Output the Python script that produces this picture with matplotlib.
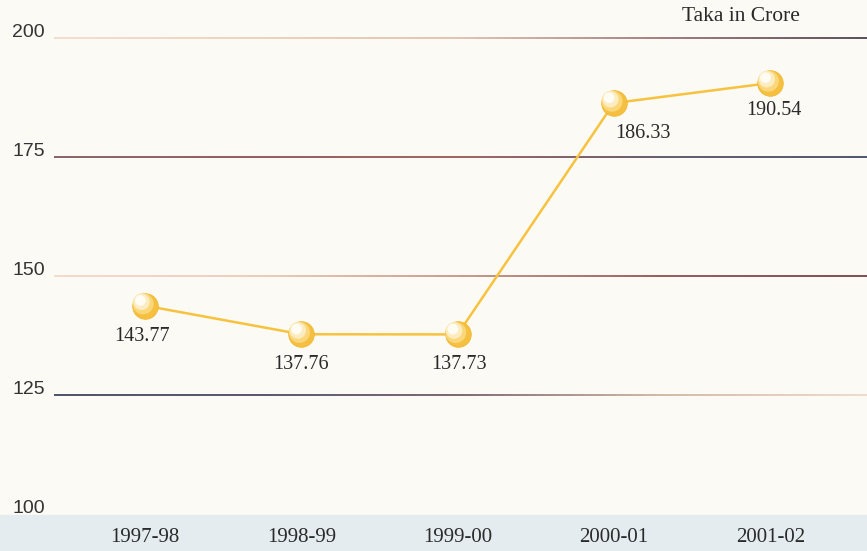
import numpy as np
import matplotlib.pyplot as plt
from matplotlib.collections import LineCollection
from matplotlib.colors import LinearSegmentedColormap

# Data
years = ['1997-98', '1998-99', '1999-00', '2000-01', '2001-02']
values = [143.77, 137.76, 137.73, 186.33, 190.54]
y_ticks = [100, 125, 150, 175, 200]
unit_label = 'Taka in Crore'

# label offsets in points (dx, dy) from each marker
label_offsets = [(-2, -22), (0, -22), (1, -22), (21, -22), (3, -20)]

fig = plt.figure(figsize=(8.67, 5.51), dpi=100)
fig.patch.set_facecolor('#fcfaf4')
ax = fig.add_axes([0, 0, 1, 1])
ax.set_facecolor('#fcfaf4')

x = np.arange(len(years))
# pixel mapping: x=145 + 156.3*i, y: 100 at 514, 25 units = 119 px
ax.set_xlim(-145 / 156.3, (867 - 145) / 156.3)
ax.set_ylim(100 - 37 / 4.76, 200 + 38 / 4.76)
for s in ax.spines.values():
    s.set_visible(False)
ax.set_xticks([])
ax.set_yticks([])

# bottom band
ax.axhspan(ax.get_ylim()[0], 99.8, color='#e4ecef', zorder=0)

# gradient grid lines
grid_colors = {
    200: ['#f0d6c4', '#e8c6b0', '#d9b4a2', '#8a5a60', '#2a2030'],
    175: ['#6a3a40', '#7a3034', '#8a3a3a', '#3a3048', '#1e2a48'],
    150: ['#f0d2c0', '#e6c0ae', '#b88070', '#7a3038', '#5a1e28'],
    125: ['#1e2440', '#2a2848', '#5a4050', '#c8a890', '#ead2c0'],
}
x0, x1 = -0.58, ax.get_xlim()[1]
xs = np.linspace(x0, x1, 200)
for yv, cols in grid_colors.items():
    cmap = LinearSegmentedColormap.from_list('g%d' % yv, cols)
    pts = np.column_stack([xs, np.full_like(xs, yv)])
    segs = np.stack([pts[:-1], pts[1:]], axis=1)
    lc = LineCollection(segs, colors=cmap(np.linspace(0, 1, len(segs))), linewidth=1.1, zorder=1)
    ax.add_collection(lc)

# y tick labels
for yv in y_ticks:
    ax.text(-133 / 156.3, yv + 1.2, str(yv), ha='left', va='center', fontsize=14,
            color='#333333', family='Liberation Sans')

# line
ax.plot(x, values, color='#f7c23e', linewidth=1.8, zorder=2)
# glossy markers
vals = np.array(values)
ax.scatter(x, vals, s=340, color='#f5c040', edgecolors='#f0b528', linewidths=0.5, zorder=3)
ax.scatter(x - 0.012, vals + 0.4, s=230, color='#fad77a', edgecolors='none', zorder=4)
ax.scatter(x - 0.022, vals + 0.8, s=140, color='#fdecc0', edgecolors='none', zorder=5)
ax.scatter(x - 0.03, vals + 1.1, s=60, color='#fffcf4', edgecolors='none', zorder=6)

# value labels
for i, v in enumerate(values):
    dx, dy = label_offsets[i]
    ax.annotate('%.2f' % v, (x[i], v), xytext=(dx, dy), textcoords='offset points',
                ha='center', va='center', fontsize=14.5, color='#2a2a2a',
                family='Liberation Serif', zorder=7)

# category labels
for i, yr in enumerate(years):
    ax.text(x[i], 100 - 23 / 4.76, yr, ha='center', va='center', fontsize=15,
            color='#2a2a2a', family='Liberation Serif')

# unit label
ax.text((741 - 145) / 156.3, 200 + 22 / 4.76, unit_label, ha='center', va='center',
        fontsize=15.5, color='#2a2a2a', family='Liberation Serif')

fig.savefig('out.png', dpi=100, facecolor=fig.get_facecolor())
